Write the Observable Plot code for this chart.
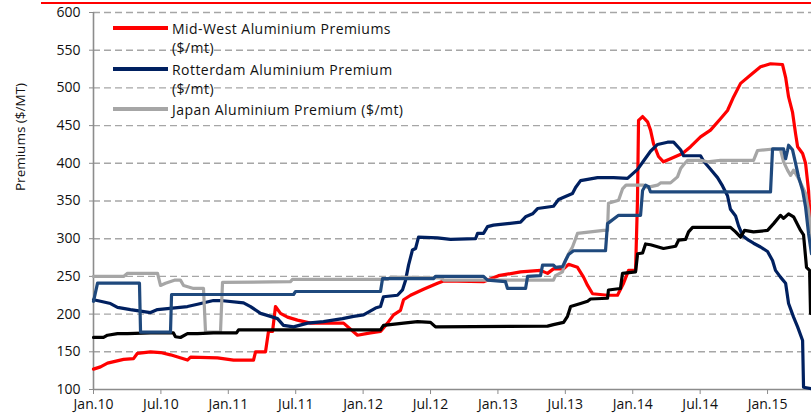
<!DOCTYPE html>
<html><head><meta charset="utf-8">
<script src="https://cdn.jsdelivr.net/npm/d3@7"></script>
<script src="https://cdn.jsdelivr.net/npm/@observablehq/plot@0.6"></script>
<style>
body{margin:0;background:#fff;font-family:"Open Sans",sans-serif;color:#111}
#wrap{position:relative;width:811px;height:419px;overflow:hidden}
#topline{position:absolute;left:41px;right:0;top:2px;height:2px;background:#ff0000}
.lg-line{position:absolute;left:113px;width:55px;height:3.5px}
.lg-text{position:absolute;left:172px;font-size:14px;letter-spacing:0.45px;line-height:19px;height:19px;white-space:nowrap;color:#111}
</style></head>
<body><div id="wrap"><div id="topline"></div></div>
<script>
// decimal year, premium ($/mt)
const midWest = [[2010.000,127],[2010.052,130],[2010.104,135],[2010.223,140],[2010.297,141],[2010.326,148],[2010.423,150],[2010.497,149],[2010.571,146],[2010.697,139],[2010.720,143],[2010.920,142],[2011.039,139],[2011.187,139],[2011.202,150],[2011.276,150],[2011.298,177],[2011.328,177],[2011.350,210],[2011.387,201],[2011.439,196],[2011.513,192],[2011.610,188],[2011.855,188],[2011.958,172],[2012.055,175],[2012.129,177],[2012.181,188],[2012.226,199],[2012.277,205],[2012.300,219],[2012.352,225],[2012.448,233],[2012.552,241],[2012.596,244],[2012.893,243],[2013.004,251],[2013.168,256],[2013.316,258],[2013.368,254],[2013.412,260],[2013.487,260],[2013.524,266],[2013.590,262],[2013.635,249],[2013.665,238],[2013.702,227],[2013.813,225],[2013.887,225],[2013.932,241],[2013.969,258],[2014.021,258],[2014.035,350],[2014.043,457],[2014.073,462],[2014.110,455],[2014.132,444],[2014.154,426],[2014.191,409],[2014.228,402],[2014.280,406],[2014.369,413],[2014.429,422],[2014.503,435],[2014.577,444],[2014.651,459],[2014.703,470],[2014.748,488],[2014.800,506],[2014.874,517],[2014.948,528],[2015.022,532],[2015.111,531],[2015.134,514],[2015.156,488],[2015.185,468],[2015.208,439],[2015.223,422],[2015.260,413],[2015.282,400],[2015.304,364],[2015.318,320]];

const rotterdam = [[2010.000,219],[2010.052,217],[2010.126,214],[2010.178,209],[2010.274,206],[2010.423,202],[2010.475,206],[2010.697,210],[2010.772,213],[2010.890,218],[2010.942,218],[2011.113,215],[2011.165,210],[2011.239,201],[2011.313,197],[2011.365,194],[2011.409,185],[2011.484,183],[2011.588,188],[2011.706,190],[2011.847,194],[2011.929,197],[2012.003,199],[2012.092,208],[2012.129,210],[2012.151,223],[2012.255,225],[2012.292,232],[2012.315,245],[2012.337,265],[2012.366,285],[2012.389,287],[2012.411,302],[2012.552,301],[2012.648,299],[2012.834,300],[2012.849,307],[2012.893,307],[2012.923,316],[2012.967,318],[2013.071,320],[2013.168,322],[2013.205,329],[2013.257,333],[2013.294,340],[2013.412,343],[2013.450,352],[2013.501,356],[2013.553,360],[2013.576,368],[2013.613,377],[2013.739,381],[2013.858,381],[2013.961,380],[2014.036,392],[2014.080,403],[2014.132,416],[2014.184,425],[2014.258,428],[2014.303,428],[2014.355,418],[2014.377,410],[2014.503,410],[2014.525,403],[2014.577,392],[2014.629,381],[2014.666,370],[2014.703,357],[2014.725,339],[2014.763,330],[2014.785,317],[2014.815,304],[2014.859,298],[2014.896,294],[2014.948,289],[2015.000,283],[2015.037,271],[2015.059,258],[2015.096,249],[2015.134,241],[2015.156,214],[2015.193,196],[2015.223,183],[2015.260,165],[2015.267,103],[2015.326,101]];

const japan = [[2010.000,250],[2010.223,250],[2010.252,254],[2010.475,254],[2010.497,238],[2010.534,241],[2010.600,245],[2010.645,245],[2010.668,238],[2010.742,234],[2010.816,234],[2010.831,176],[2010.942,176],[2010.957,242],[2011.461,243],[2011.476,246],[2012.181,246],[2012.203,249],[2012.574,248],[2012.600,245],[2013.412,245],[2013.427,251],[2013.479,256],[2013.501,271],[2013.524,280],[2013.553,289],[2013.576,300],[2013.590,307],[2013.783,311],[2013.813,311],[2013.820,347],[2013.895,351],[2013.924,366],[2013.950,371],[2014.080,371],[2014.110,368],[2014.184,371],[2014.206,374],[2014.280,374],[2014.332,382],[2014.355,393],[2014.377,398],[2014.407,404],[2014.503,404],[2014.555,402],[2014.651,404],[2014.896,404],[2014.926,417],[2015.045,419],[2015.096,418],[2015.119,402],[2015.148,391],[2015.171,384],[2015.193,391],[2015.223,382],[2015.245,374],[2015.282,360],[2015.304,338],[2015.326,302]];

const seriesBlack = [[2010.000,169],[2010.074,169],[2010.104,172],[2010.178,174],[2010.252,174],[2010.423,175],[2010.593,175],[2010.608,170],[2010.645,169],[2010.697,174],[2010.772,174],[2010.890,175],[2011.061,175],[2011.076,179],[2012.129,179],[2012.151,185],[2012.300,188],[2012.404,190],[2012.500,189],[2012.537,183],[2013.368,184],[2013.412,186],[2013.487,189],[2013.516,197],[2013.539,210],[2013.613,214],[2013.665,217],[2013.687,220],[2013.813,221],[2013.820,232],[2013.909,234],[2013.924,254],[2014.021,256],[2014.036,280],[2014.073,281],[2014.095,293],[2014.132,292],[2014.228,287],[2014.318,290],[2014.340,298],[2014.392,299],[2014.414,309],[2014.444,315],[2014.725,315],[2014.763,309],[2014.800,302],[2014.829,311],[2014.896,309],[2015.000,311],[2015.045,320],[2015.096,331],[2015.119,327],[2015.156,333],[2015.193,329],[2015.245,311],[2015.267,305],[2015.289,262],[2015.312,258],[2015.319,201]];

const seriesBlue = [[2010.000,217],[2010.030,241],[2010.341,241],[2010.349,176],[2010.571,176],[2010.579,226],[2011.484,226],[2011.499,230],[2012.129,230],[2012.144,247],[2012.522,247],[2012.537,250],[2012.893,250],[2012.923,245],[2013.056,243],[2013.071,234],[2013.205,234],[2013.220,250],[2013.316,251],[2013.331,265],[2013.412,265],[2013.427,262],[2013.479,263],[2013.501,271],[2013.524,279],[2013.561,284],[2013.798,284],[2013.813,320],[2013.895,331],[2014.058,331],[2014.073,364],[2014.095,371],[2014.117,369],[2014.132,362],[2015.022,362],[2015.037,419],[2015.119,419],[2015.134,406],[2015.148,417],[2015.156,424],[2015.185,418],[2015.208,400],[2015.230,382],[2015.260,364],[2015.282,342],[2015.304,307],[2015.326,280]];

const xTicks = [2010,2010.5,2011,2011.5,2012,2012.5,2013,2013.5,2014,2014.5,2015];
const xTickLabels = ["Jan.10","Jul.10","Jan.11","Jul.11","Jan.12","Jul.12","Jan.13","Jul.13","Jan.14","Jul.14","Jan.15"];
const yTicks = [100,150,200,250,300,350,400,450,500,550,600];
const legendNames = [["Mid-West Aluminium Premiums","($/mt)"],["Rotterdam Aluminium Premium","($/mt)"],["Japan Aluminium Premium ($/mt)"]];
const yTitle = "Premiums ($/MT)";

const lineOpts = {x: d => d[0], y: d => d[1], strokeWidth: 3.2, strokeLinejoin: "round", strokeLinecap: "round"};

const chart = Plot.plot({
  width: 811, height: 419,
  marginLeft: 93, marginRight: 0, marginTop: 12, marginBottom: 30,
  style: {fontFamily: "Open Sans, sans-serif", fontSize: "14px", color: "#111", background: "transparent", overflow: "visible"},
  x: {domain: [2010, 2015.326]},
  y: {domain: [100, 600]},
  marks: [
    Plot.ruleY(yTicks.filter(d => d > 100), {stroke: "#a6a6a6", strokeWidth: 1.4, strokeDasharray: "7,4"}),
    Plot.axisY({ticks: yTicks, tickSize: 4, tickPadding: 9, stroke: "#8c8c8c", fill: "#111", label: null}),
    Plot.axisX({ticks: xTicks, tickFormat: d => xTickLabels[xTicks.indexOf(d)], tickSize: 5, tickPadding: 5, stroke: "#8c8c8c", fill: "#111", label: null}),
    Plot.ruleY([100], {stroke: "#8c8c8c", strokeWidth: 1.6}),
    Plot.ruleX([2010], {stroke: "#8c8c8c", strokeWidth: 1.6}),
    Plot.text([yTitle], {frameAnchor: "left", dx: -73, dy: -10, rotate: -90, fontSize: 13.5, fill: "#111"}),
    Plot.line(midWest, {...lineOpts, stroke: "#ff0000"}),
    Plot.line(rotterdam, {...lineOpts, stroke: "#002060"}),
    Plot.line(japan, {...lineOpts, stroke: "#a6a6a6"}),
    Plot.line(seriesBlack, {...lineOpts, stroke: "#000000"}),
    Plot.line(seriesBlue, {...lineOpts, stroke: "#1f497d"})
  ]
});
const wrap = document.getElementById("wrap");
chart.style.position = "absolute"; chart.style.left = "0"; chart.style.top = "0";
wrap.appendChild(chart);

const legendColors = ["#ff0000", "#002060", "#a6a6a6"];
const legendTops = [28, 69, 109];
legendNames.forEach((lines, i) => {
  const ln = document.createElement("div");
  ln.className = "lg-line";
  ln.style.top = (legendTops[i] - 1.75) + "px";
  ln.style.background = legendColors[i];
  wrap.appendChild(ln);
  lines.forEach((t, j) => {
    const tx = document.createElement("div");
    tx.className = "lg-text";
    tx.style.top = (legendTops[i] - 9.5 + j * 19.5) + "px";
    tx.textContent = t;
    wrap.appendChild(tx);
  });
});
</script></body></html>
